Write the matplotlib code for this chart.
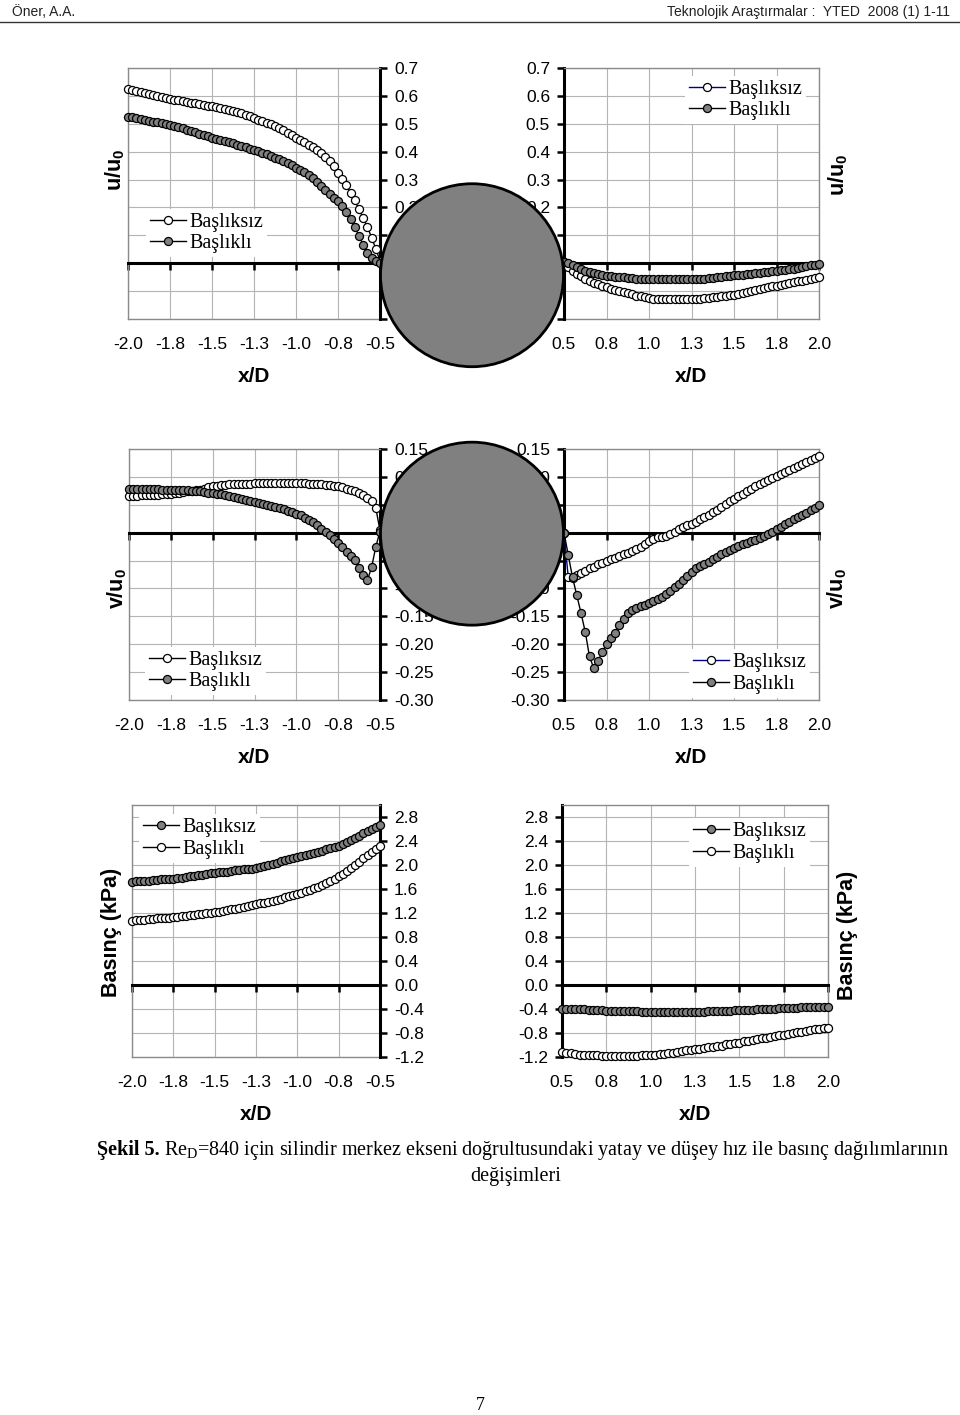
import matplotlib
matplotlib.use("Agg")
import matplotlib.pyplot as plt
from matplotlib.patches import Ellipse
from matplotlib.lines import Line2D

W, H = 960, 1415
SANS = "Liberation Sans"
SERIF = "Liberation Serif"
plt.rcParams["font.family"] = [SANS, "DejaVu Sans"]

# ---------------- data ----------------
x_left = [-2.000, -1.975, -1.950, -1.925, -1.900, -1.875, -1.850, -1.825, -1.800, -1.775,
          -1.750, -1.725, -1.700, -1.675, -1.650, -1.625, -1.600, -1.575, -1.550, -1.525,
          -1.500, -1.475, -1.450, -1.425, -1.400, -1.375, -1.350, -1.325, -1.300, -1.275,
          -1.250, -1.225, -1.200, -1.175, -1.150, -1.125, -1.100, -1.075, -1.050, -1.025,
          -1.000, -0.975, -0.950, -0.925, -0.900, -0.875, -0.850, -0.825, -0.800, -0.775,
          -0.750, -0.725, -0.700, -0.675, -0.650, -0.625, -0.600, -0.575, -0.550, -0.525,
          -0.500]
x_right = [0.500, 0.525, 0.550, 0.575, 0.600, 0.625, 0.650, 0.675, 0.700, 0.725,
           0.750, 0.775, 0.800, 0.825, 0.850, 0.875, 0.900, 0.925, 0.950, 0.975,
           1.000, 1.025, 1.050, 1.075, 1.100, 1.125, 1.150, 1.175, 1.200, 1.225,
           1.250, 1.275, 1.300, 1.325, 1.350, 1.375, 1.400, 1.425, 1.450, 1.475,
           1.500, 1.525, 1.550, 1.575, 1.600, 1.625, 1.650, 1.675, 1.700, 1.725,
           1.750, 1.775, 1.800, 1.825, 1.850, 1.875, 1.900, 1.925, 1.950, 1.975,
           2.000]

# u/u0, upstream
u_left_bsz = [0.625, 0.621, 0.618, 0.614, 0.611, 0.607, 0.604, 0.600, 0.597, 0.593,
              0.590, 0.587, 0.584, 0.581, 0.579, 0.576, 0.573, 0.570, 0.567, 0.565,
              0.562, 0.559, 0.555, 0.552, 0.548, 0.545, 0.541, 0.537, 0.533, 0.527,
              0.520, 0.515, 0.510, 0.504, 0.498, 0.491, 0.484, 0.476, 0.468, 0.459,
              0.450, 0.442, 0.434, 0.425, 0.416, 0.406, 0.395, 0.382, 0.366, 0.347,
              0.325, 0.303, 0.280, 0.252, 0.225, 0.193, 0.162, 0.130, 0.092, 0.052,
              0.008]
u_left_bkl = [0.526, 0.523, 0.520, 0.517, 0.514, 0.511, 0.508, 0.505, 0.502, 0.499,
              0.496, 0.492, 0.488, 0.484, 0.479, 0.474, 0.469, 0.464, 0.459, 0.455,
              0.450, 0.446, 0.442, 0.438, 0.434, 0.430, 0.425, 0.420, 0.415, 0.411,
              0.406, 0.401, 0.396, 0.391, 0.385, 0.379, 0.372, 0.365, 0.358, 0.351,
              0.343, 0.335, 0.326, 0.316, 0.305, 0.292, 0.278, 0.262, 0.247, 0.234,
              0.222, 0.206, 0.185, 0.158, 0.130, 0.098, 0.066, 0.038, 0.018, 0.008,
              0.002]
# u/u0, downstream
u_right_bsz = [0.003, -0.015, -0.028, -0.038, -0.047, -0.056, -0.063, -0.070, -0.076, -0.082,
               -0.087, -0.092, -0.096, -0.100, -0.104, -0.108, -0.112, -0.116, -0.119, -0.122,
               -0.125, -0.127, -0.128, -0.129, -0.130, -0.130, -0.130, -0.130, -0.130, -0.130,
               -0.130, -0.129, -0.127, -0.125, -0.123, -0.122, -0.120, -0.118, -0.117, -0.115,
               -0.113, -0.110, -0.106, -0.103, -0.099, -0.096, -0.093, -0.090, -0.087, -0.083,
               -0.080, -0.077, -0.074, -0.071, -0.068, -0.065, -0.062, -0.059, -0.056, -0.053,
               -0.051]
u_right_bkl = [0.005, 0.000, -0.006, -0.014, -0.021, -0.027, -0.032, -0.036, -0.039, -0.042,
               -0.045, -0.047, -0.049, -0.050, -0.051, -0.053, -0.054, -0.055, -0.056, -0.056,
               -0.057, -0.057, -0.057, -0.058, -0.058, -0.058, -0.058, -0.058, -0.057, -0.057,
               -0.057, -0.056, -0.056, -0.055, -0.054, -0.052, -0.051, -0.049, -0.047, -0.046,
               -0.044, -0.043, -0.041, -0.040, -0.038, -0.036, -0.034, -0.033, -0.031, -0.029,
               -0.027, -0.025, -0.023, -0.021, -0.019, -0.017, -0.014, -0.011, -0.008, -0.005,
               -0.001]
# v/u0, upstream
v_left_bsz = [0.066, 0.066, 0.066, 0.067, 0.067, 0.067, 0.068, 0.068, 0.069, 0.069,
              0.070, 0.071, 0.072, 0.073, 0.074, 0.075, 0.076, 0.077, 0.079, 0.081,
              0.083, 0.084, 0.085, 0.086, 0.087, 0.087, 0.088, 0.088, 0.088, 0.088,
              0.089, 0.089, 0.089, 0.089, 0.089, 0.089, 0.089, 0.089, 0.089, 0.089,
              0.089, 0.089, 0.089, 0.088, 0.088, 0.087, 0.087, 0.086, 0.085, 0.084,
              0.083, 0.081, 0.079, 0.077, 0.075, 0.072, 0.068, 0.063, 0.056, 0.044,
              0.004]
v_left_bkl = [0.078, 0.078, 0.078, 0.078, 0.078, 0.078, 0.078, 0.078, 0.077, 0.077,
              0.077, 0.077, 0.077, 0.076, 0.076, 0.075, 0.075, 0.074, 0.073, 0.072,
              0.071, 0.070, 0.069, 0.067, 0.066, 0.064, 0.063, 0.061, 0.059, 0.057,
              0.055, 0.053, 0.051, 0.049, 0.048, 0.046, 0.044, 0.042, 0.039, 0.037,
              0.034, 0.031, 0.027, 0.023, 0.019, 0.013, 0.007, 0.001, -0.005, -0.012,
              -0.019, -0.026, -0.034, -0.041, -0.049, -0.063, -0.076, -0.085, -0.062, -0.025,
              0.002]
# v/u0, downstream
v_right_bsz = [0.000, -0.080, -0.082, -0.076, -0.072, -0.068, -0.064, -0.061, -0.057, -0.054,
               -0.051, -0.048, -0.045, -0.042, -0.039, -0.036, -0.033, -0.029, -0.025, -0.020,
               -0.015, -0.011, -0.008, -0.007, -0.006, -0.003, 0.002, 0.006, 0.010, 0.013,
               0.016, 0.020, 0.024, 0.028, 0.032, 0.037, 0.041, 0.046, 0.051, 0.056,
               0.061, 0.065, 0.069, 0.074, 0.078, 0.083, 0.087, 0.091, 0.095, 0.098,
               0.101, 0.105, 0.108, 0.112, 0.116, 0.120, 0.123, 0.127, 0.130, 0.133,
               0.137]
v_right_bkl = [0.000, -0.040, -0.080, -0.112, -0.144, -0.178, -0.222, -0.243, -0.230, -0.214,
               -0.200, -0.189, -0.179, -0.166, -0.154, -0.144, -0.138, -0.135, -0.132, -0.129,
               -0.126, -0.123, -0.119, -0.115, -0.110, -0.104, -0.098, -0.092, -0.085, -0.078,
               -0.071, -0.064, -0.060, -0.056, -0.052, -0.048, -0.044, -0.039, -0.035, -0.031,
               -0.027, -0.024, -0.021, -0.018, -0.015, -0.013, -0.010, -0.006, -0.002, 0.002,
               0.006, 0.010, 0.015, 0.020, 0.024, 0.028, 0.032, 0.036, 0.040, 0.045,
               0.049]
# pressure (kPa), upstream
p_left_bsz = [1.72, 1.73, 1.73, 1.74, 1.74, 1.75, 1.75, 1.76, 1.76, 1.77,
              1.77, 1.78, 1.79, 1.80, 1.81, 1.82, 1.83, 1.84, 1.85, 1.86,
              1.87, 1.88, 1.88, 1.89, 1.90, 1.91, 1.92, 1.93, 1.94, 1.94,
              1.95, 1.97, 1.98, 2.00, 2.02, 2.04, 2.06, 2.08, 2.10, 2.11,
              2.13, 2.15, 2.16, 2.18, 2.20, 2.22, 2.24, 2.26, 2.28, 2.30,
              2.32, 2.35, 2.38, 2.41, 2.45, 2.49, 2.53, 2.56, 2.60, 2.63,
              2.67]
p_left_bkl = [1.07, 1.08, 1.08, 1.09, 1.10, 1.10, 1.11, 1.11, 1.12, 1.12,
              1.13, 1.14, 1.15, 1.15, 1.16, 1.17, 1.18, 1.19, 1.20, 1.20,
              1.21, 1.22, 1.23, 1.25, 1.26, 1.27, 1.29, 1.30, 1.32, 1.33,
              1.345, 1.36, 1.37, 1.39, 1.40, 1.42, 1.44, 1.46, 1.48, 1.50,
              1.52, 1.54, 1.56, 1.58, 1.61, 1.64, 1.67, 1.70, 1.73, 1.77,
              1.81, 1.85, 1.90, 1.95, 2.00, 2.05, 2.11, 2.16, 2.22, 2.27,
              2.32]
# pressure (kPa), downstream
p_right_bsz = [-0.40, -0.40, -0.40, -0.40, -0.40, -0.40, -0.41, -0.42, -0.42, -0.42,
               -0.43, -0.43, -0.43, -0.43, -0.43, -0.43, -0.43, -0.44, -0.45, -0.45,
               -0.45, -0.45, -0.45, -0.45, -0.45, -0.45, -0.45, -0.45, -0.45, -0.45,
               -0.45, -0.45, -0.45, -0.44, -0.43, -0.43, -0.43, -0.43, -0.43, -0.42,
               -0.42, -0.42, -0.42, -0.41, -0.40, -0.40, -0.40, -0.40, -0.40, -0.39,
               -0.39, -0.39, -0.38, -0.38, -0.37, -0.37, -0.37, -0.36, -0.36, -0.36,
               -0.36]
p_right_bkl = [-1.11, -1.13, -1.14, -1.15, -1.16, -1.16, -1.16, -1.17, -1.17, -1.18,
               -1.19, -1.19, -1.19, -1.19, -1.19, -1.19, -1.19, -1.18, -1.17, -1.17,
               -1.16, -1.16, -1.15, -1.15, -1.14, -1.13, -1.12, -1.10, -1.09, -1.08,
               -1.07, -1.06, -1.05, -1.04, -1.03, -1.02, -1.01, -0.99, -0.98, -0.97,
               -0.96, -0.94, -0.93, -0.91, -0.90, -0.89, -0.88, -0.86, -0.85, -0.84,
               -0.83, -0.81, -0.80, -0.79, -0.78, -0.76, -0.75, -0.74, -0.73, -0.72,
               -0.71]

# ticks
xt_left = [-2.0, -1.75, -1.5, -1.25, -1.0, -0.75, -0.5]
xl_left = ["-2.0", "-1.8", "-1.5", "-1.3", "-1.0", "-0.8", "-0.5"]
xt_right = [0.5, 0.75, 1.0, 1.25, 1.5, 1.75, 2.0]
xl_right = ["0.5", "0.8", "1.0", "1.3", "1.5", "1.8", "2.0"]
yt_u = [0.7, 0.6, 0.5, 0.4, 0.3, 0.2, 0.1, 0.0, -0.1, -0.2]
yl_u = ["0.7", "0.6", "0.5", "0.4", "0.3", "0.2", "0.1", "0.0", "-0.1", "-0.2"]
yt_v = [0.15, 0.10, 0.05, 0.0, -0.05, -0.10, -0.15, -0.20, -0.25, -0.30]
yl_v = ["0.15", "0.10", "0.05", "0.00", "-0.05", "-0.10", "-0.15", "-0.20", "-0.25", "-0.30"]
yt_p = [2.8, 2.4, 2.0, 1.6, 1.2, 0.8, 0.4, 0.0, -0.4, -0.8, -1.2]
yl_p = ["2.8", "2.4", "2.0", "1.6", "1.2", "0.8", "0.4", "0.0", "-0.4", "-0.8", "-1.2"]

lab_bsz = "Başlıksız"
lab_bkl = "Başlıklı"

GRAY_FILL = "#808080"
NAVY = "#000080"
GRID = "#b4b4b4"
BORDER = "#8a8a8a"

fig = plt.figure(figsize=(W / 100, H / 100), dpi=100)


def rect(x0, y0, x1, y1):
    return [x0 / W, 1 - y1 / H, (x1 - x0) / W, (y1 - y0) / H]


def style(ax, side, xlim, ylim, xt, xl, yt, yl):
    ax.set_xlim(*xlim)
    ax.set_ylim(*ylim)
    ax.set_xticks(xt)
    ax.set_yticks(yt, labels=yl)
    ax.grid(True, color=GRID, lw=0.8)
    ax.set_axisbelow(True)
    for s in ax.spines.values():
        s.set_color(BORDER)
        s.set_linewidth(1.0)
    ax.spines["bottom"].set_position(("data", 0))
    ax.spines["bottom"].set_color("black")
    ax.spines["bottom"].set_linewidth(2.2)
    ax.tick_params(axis="x", direction="out", length=5, width=1.8, labelbottom=False)
    if side == "right":
        ax.yaxis.tick_right()
        ax.spines["right"].set_color("black")
        ax.spines["right"].set_linewidth(2.2)
    else:
        ax.yaxis.tick_left()
        ax.spines["left"].set_color("black")
        ax.spines["left"].set_linewidth(2.2)
    ax.tick_params(axis="y", direction="out", length=5, width=1.8, labelsize=12.5, pad=5)
    sec = ax.secondary_xaxis(0.0)
    sec.set_xticks(xt, labels=xl)
    sec.tick_params(length=0, pad=13, labelsize=12.5)
    sec.spines["bottom"].set_color(BORDER)
    sec.spines["bottom"].set_linewidth(1.0)
    sec.set_xlabel("x/D", fontsize=15, fontweight="bold", labelpad=11)
    return sec


def series(ax, x, y, filled, color="black"):
    ax.plot(x, y, color=color, lw=1.0, marker="o", ms=5.8, mew=0.9,
            mec="black", mfc=GRAY_FILL if filled else "white", clip_on=False, zorder=3)


def legend(ax, entries, px, py):
    handles = []
    for lab, filled, col in entries:
        handles.append(Line2D([], [], color=col, lw=1.0, marker="o", ms=5.8, mew=0.9,
                              mec="black", mfc=GRAY_FILL if filled else "white", label=lab))
    leg = ax.legend(handles=handles, loc="center left",
                    bbox_to_anchor=(px / W, 1 - py / H), bbox_transform=fig.transFigure,
                    prop={"family": SERIF, "size": 14.5}, frameon=True, fancybox=False,
                    edgecolor="none", facecolor="white", framealpha=1,
                    handlelength=1.8, handletextpad=0.15, labelspacing=0.12,
                    borderpad=0.2, borderaxespad=0)
    leg.set_zorder(5)


# ---- row 1: u/u0
ax1 = fig.add_axes(rect(128, 68, 380, 319))
style(ax1, "right", (-2.0, -0.5), (-0.2, 0.7), xt_left, xl_left, yt_u, yl_u)
series(ax1, x_left, u_left_bsz, False)
series(ax1, x_left, u_left_bkl, True)
legend(ax1, [(lab_bsz, False, "black"), (lab_bkl, True, "black")], 146, 233)

ax2 = fig.add_axes(rect(564, 68, 819, 319))
style(ax2, "left", (0.5, 2.0), (-0.2, 0.7), xt_right, xl_right, yt_u, yl_u)
series(ax2, x_right, u_right_bsz, False, NAVY)
series(ax2, x_right, u_right_bkl, True)
legend(ax2, [(lab_bsz, False, NAVY), (lab_bkl, True, "black")], 685, 100)

# ---- row 2: v/u0
ax3 = fig.add_axes(rect(129, 449, 380, 700))
style(ax3, "right", (-2.0, -0.5), (-0.30, 0.15), xt_left, xl_left, yt_v, yl_v)
series(ax3, x_left, v_left_bsz, False)
series(ax3, x_left, v_left_bkl, True)
legend(ax3, [(lab_bsz, False, "black"), (lab_bkl, True, "black")], 145, 671)

ax4 = fig.add_axes(rect(564, 449, 819, 700))
style(ax4, "left", (0.5, 2.0), (-0.30, 0.15), xt_right, xl_right, yt_v, yl_v)
series(ax4, x_right, v_right_bsz, False, NAVY)
series(ax4, x_right, v_right_bkl, True)
legend(ax4, [(lab_bsz, False, NAVY), (lab_bkl, True, "black")], 689, 673.5)

# ---- row 3: pressure
ax5 = fig.add_axes(rect(132, 805, 380, 1057))
style(ax5, "right", (-2.0, -0.5), (-1.2, 3.0), xt_left, xl_left, yt_p, yl_p)
series(ax5, x_left, p_left_bsz, True)
series(ax5, x_left, p_left_bkl, False)
legend(ax5, [(lab_bsz, True, "black"), (lab_bkl, False, "black")], 139, 838.5)

ax6 = fig.add_axes(rect(562, 805, 828, 1057))
style(ax6, "left", (0.5, 2.0), (-1.2, 3.0), xt_right, xl_right, yt_p, yl_p)
series(ax6, x_right, p_right_bsz, True)
series(ax6, x_right, p_right_bkl, False)
legend(ax6, [(lab_bsz, True, "black"), (lab_bkl, False, "black")], 689, 842.5)

# ---- y labels
ylab_kw = dict(rotation=90, ha="center", va="center", fontweight="bold")
fig.text(115 / W, 1 - 170 / H, "u/u$_\\mathregular{0}$", fontsize=15.5, **ylab_kw)
fig.text(838 / W, 1 - 175 / H, "u/u$_\\mathregular{0}$", fontsize=15.5, **ylab_kw)
fig.text(117 / W, 1 - 588 / H, "v/u$_\\mathregular{0}$", fontsize=15.5, **ylab_kw)
fig.text(837 / W, 1 - 588 / H, "v/u$_\\mathregular{0}$", fontsize=15.5, **ylab_kw)
fig.text(112 / W, 1 - 932 / H, "Basınç (kPa)", fontsize=15.5, **ylab_kw)
fig.text(848 / W, 1 - 935 / H, "Basınç (kPa)", fontsize=15.5, **ylab_kw)

# ---- cylinders, spanning x/D = -0.5 .. 0.5 between the paired panels
fig.canvas.draw()
inv = fig.transFigure.inverted()


def cylinder(axL, axR, dy_px):
    pl = axL.transData.transform((-0.5, 0.0))
    pr = axR.transData.transform((0.5, 0.0))
    cx, cy = (pl[0] + pr[0]) / 2, pl[1] - dy_px
    r = (pr[0] - pl[0]) / 2 - 0.5
    c = inv.transform((cx, cy))
    e = Ellipse(c, 2 * r / W, 2 * r / H, transform=fig.transFigure,
                facecolor=GRAY_FILL, edgecolor="black", lw=2.0, zorder=10)
    fig.add_artist(e)


cylinder(ax1, ax2, 12)
cylinder(ax3, ax4, 1)

# ---- header / footer / caption
fig.text(12 / W, 1 - 12 / H, "Öner, A.A.", fontsize=10, color="#222222", va="center")
fig.text(950 / W, 1 - 12 / H, "Teknolojik Araştırmalar :  YTED  2008 (1) 1-11",
         fontsize=10, color="#222222", va="center", ha="right")
fig.add_artist(Line2D([0, 1], [1 - 21.5 / H, 1 - 21.5 / H], color="#333333", lw=1.0,
                      transform=fig.transFigure))

t1 = fig.text(97 / W, 1 - 1150 / H, "Şekil 5.", fontsize=14.5, family=SERIF,
              fontweight="bold", va="center")
fig.canvas.draw()
bb = t1.get_window_extent()
x_next = (bb.x1 + 4) / W
fig.text(x_next, 1 - 1150 / H,
         "Re$_\\mathregular{D}$=840 için silindir merkez ekseni doğrultusundaki yatay ve düşey hız ile basınç dağılımlarının",
         fontsize=14.5, family=SERIF, va="center")
fig.text(516 / W, 1 - 1176 / H, "değişimleri", fontsize=14.5, family=SERIF,
         va="center", ha="center")
fig.text(480 / W, 1 - 1405 / H, "7", fontsize=13, family=SERIF, va="center", ha="center")

fig.savefig("out.png", dpi=100)
